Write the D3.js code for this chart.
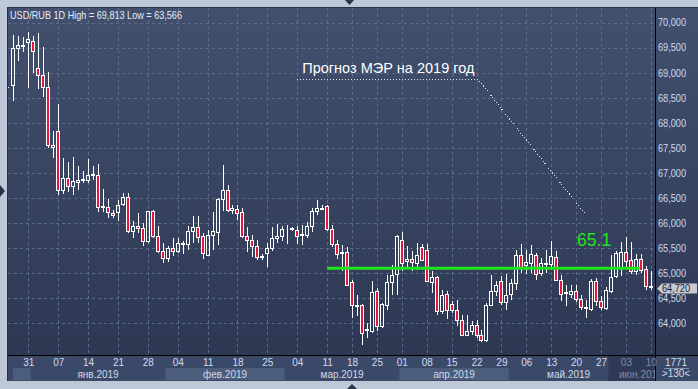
<!DOCTYPE html>
<html>
<head>
<meta charset="utf-8">
<script src="https://cdnjs.cloudflare.com/ajax/libs/d3/7.8.5/d3.min.js"></script>
<style>
  body { margin: 0; background: #bfc8d6; }
  svg { display: block; font-family: "Liberation Sans", Arial, sans-serif; }
</style>
</head>
<body>
<div id="chart"></div>
<script>
// daily USD/RUB candles, 31.12.2018 .. 10.06.2019
var opens = [68.71, 68.75, 69.50, 69.53, 69.62, 69.64, 69.10, 68.95, 68.71, 67.56,
  67.83, 66.66, 66.91, 66.75, 66.83, 66.86, 66.86, 66.97, 66.97, 66.34,
  66.33, 66.21, 66.22, 66.39, 66.52, 65.85, 65.95, 65.90, 65.65, 66.25,
  65.75, 65.45, 65.30, 65.50, 65.45, 65.59, 65.59, 65.85, 65.92, 65.74,
  65.37, 65.77, 65.83, 66.49, 66.67, 66.27, 66.29, 66.22, 65.75, 65.67,
  65.55, 65.33, 65.41, 65.51, 65.71, 65.74, 65.90, 65.89, 65.87, 65.76,
  65.77, 65.95, 66.25, 66.29, 66.35, 65.89, 65.59, 65.40, 65.42, 64.82,
  64.35, 64.36, 63.86, 63.85, 64.65, 63.94, 64.37, 64.82, 64.99, 65.66,
  65.24, 65.29, 65.21, 65.53, 65.47, 64.83, 64.92, 64.24, 64.59, 64.39,
  64.27, 64.06, 63.77, 63.84, 63.97, 63.77, 63.67, 64.37, 64.64, 64.84,
  64.43, 64.59, 64.81, 65.37, 65.17, 65.21, 65.37, 65.01, 65.19, 65.19,
  65.32, 64.87, 64.60, 64.59, 64.64, 64.49, 64.33, 64.29, 64.84, 64.44,
  64.31, 64.65, 64.94, 65.11, 65.42, 65.27, 65.05, 65.29, 65.09, 64.74];
var highs = [68.72, 69.75, 69.74, 69.72, 69.813, 69.74, 69.79, 69.52, 69.02, 67.83,
  68.38, 67.29, 67.22, 67.32, 67.14, 67.04, 67.27, 67.14, 67.17, 66.69,
  66.49, 66.26, 66.47, 66.61, 66.60, 66.05, 66.20, 66.00, 66.25, 66.26,
  65.95, 65.60, 65.55, 65.70, 65.70, 65.64, 65.94, 66.14, 66.14, 65.81,
  65.87, 66.22, 66.51, 67.16, 66.76, 66.36, 66.37, 66.31, 65.92, 65.77,
  65.67, 65.39, 65.61, 65.92, 65.99, 65.95, 65.97, 65.92, 65.95, 65.97,
  66.02, 66.31, 66.47, 66.36, 66.36, 65.96, 65.67, 65.57, 65.52, 64.87,
  64.56, 64.39, 64.00, 64.84, 64.71, 64.40, 64.96, 65.16, 65.76, 65.83,
  65.54, 65.44, 65.61, 65.58, 65.59, 65.04, 64.94, 64.67, 64.64, 64.45,
  64.47, 64.16, 64.16, 64.04, 64.07, 63.87, 64.41, 64.97, 64.84, 64.94,
  64.99, 64.89, 65.47, 65.59, 65.47, 65.57, 65.41, 65.31, 65.47, 65.65,
  65.44, 64.96, 64.77, 64.77, 64.77, 64.57, 64.47, 64.89, 64.90, 64.54,
  64.72, 65.37, 65.44, 65.62, 65.72, 65.62, 65.39, 65.39, 65.14, 65.04];
var lows = [68.70, 68.43, 69.23, 69.41, 68.70, 69.00, 68.67, 68.51, 67.49, 67.29,
  66.57, 66.59, 66.63, 66.57, 66.66, 66.81, 66.81, 66.87, 66.23, 66.23,
  66.11, 66.11, 66.05, 66.34, 65.80, 65.70, 65.80, 65.55, 65.60, 65.70,
  65.40, 65.20, 65.22, 65.35, 65.40, 65.39, 65.47, 65.61, 65.61, 65.29,
  65.35, 65.47, 65.57, 66.24, 66.23, 66.18, 66.06, 65.71, 65.42, 65.32,
  65.27, 65.27, 65.12, 65.44, 65.61, 65.64, 65.59, 65.84, 65.59, 65.56,
  65.71, 65.83, 66.17, 66.26, 65.85, 65.52, 65.29, 65.04, 64.74, 64.11,
  64.14, 63.566, 63.70, 63.80, 63.84, 63.90, 64.27, 64.57, 64.57, 65.04,
  65.11, 65.04, 65.07, 65.24, 64.83, 64.61, 64.17, 64.19, 64.09, 64.21,
  63.94, 63.74, 63.74, 63.77, 63.71, 63.62, 63.62, 64.35, 64.54, 64.37,
  64.27, 64.47, 64.67, 65.01, 64.99, 65.01, 64.87, 64.94, 65.01, 65.07,
  64.85, 64.45, 64.34, 64.51, 64.43, 64.27, 64.11, 64.24, 64.34, 64.27,
  64.27, 64.61, 64.90, 64.94, 65.12, 64.98, 64.97, 65.01, 64.67, 64.67];
var closes = [68.71, 69.49, 69.55, 69.55, 69.67, 69.43, 68.95, 68.71, 67.55, 67.51,
  66.67, 66.91, 66.75, 66.85, 66.87, 66.88, 66.97, 66.98, 66.33, 66.33,
  66.22, 66.16, 66.37, 66.52, 65.85, 65.95, 65.90, 65.65, 66.25, 65.75,
  65.45, 65.30, 65.50, 65.45, 65.60, 65.61, 65.85, 65.92, 65.72, 65.41,
  65.77, 65.84, 66.49, 66.67, 66.27, 66.31, 66.21, 65.74, 65.66, 65.54,
  65.33, 65.35, 65.51, 65.71, 65.75, 65.89, 65.91, 65.90, 65.75, 65.78,
  65.95, 66.25, 66.31, 66.30, 65.89, 65.59, 65.39, 65.42, 64.77, 64.37,
  64.37, 63.81, 63.88, 64.62, 63.94, 64.38, 64.82, 64.96, 65.74, 65.21,
  65.29, 65.22, 65.37, 65.27, 64.84, 64.92, 64.25, 64.57, 64.26, 64.27,
  64.06, 63.77, 63.84, 63.97, 63.77, 63.66, 64.37, 64.64, 64.77, 64.43,
  64.57, 64.81, 65.37, 65.11, 65.22, 65.39, 64.99, 65.20, 65.21, 65.34,
  64.87, 64.59, 64.62, 64.64, 64.49, 64.33, 64.31, 64.84, 64.44, 64.32,
  64.67, 64.92, 65.41, 65.42, 65.25, 65.05, 65.29, 65.07, 64.74, 64.72];

// axis labels (candle index -> text)
var dayIdx = [4, 10, 16, 22, 28, 34, 40, 46, 52, 58, 64, 69, 74, 79, 84, 89, 94, 99, 104, 109, 114, 119, 124, 129];
var dayLabels = ['31', '07', '14', '21', '28', '04', '11', '18', '25', '04', '11', '18', '25',
  '01', '08', '15', '22', '29', '06', '13', '20', '27', '03', '10'];
var monthLabels = ['янв.2019', 'фев.2019', 'мар.2019', 'апр.2019', 'май.2019', 'июн.2019'];
var monthFrom = [4.5, 31.5, 55.5, 78.5, 100.5, 120.5];
var monthTo = [31.5, 55.5, 78.5, 100.5, 120.5, 131.5];
var monthMid = [18, 43.5, 67, 89.5, 112.5, 127];
var priceTicks = [64, 64.5, 65, 65.5, 66, 66.5, 67, 67.5, 68, 68.5, 69, 69.5, 70];

// forecast annotation
var forecastText = 'Прогноз МЭР на 2019 год';
var forecastLevel = 65.1;
var forecastFrom = 64, forecastTo = 126.8;
var notePath = [[58, 68.87], [94.3, 68.87], [116, 66.16]];

var W = 698, H = 389;
var mLeft = 8, mTop = 8, plotRight = 655, plotBottom = 355, axisBottom = 381;

var n = closes.length;
var x = d3.scaleLinear().domain([0, n - 1]).range([8.4, 650.8]);
var y = d3.scaleLinear().domain([64, 70]).range([323.3, 22.7]);

var ru = d3.formatLocale({ decimal: ',', thousands: ' ', grouping: [3], currency: ['', ''] });
var fmt = ru.format('.3f');

var svg = d3.select('#chart').append('svg')
  .attr('width', W)
  .attr('height', H);

var defs = svg.append('defs');
var grad = defs.append('linearGradient')
  .attr('id', 'bg').attr('x1', 0).attr('y1', 0).attr('x2', 0).attr('y2', 1);
grad.append('stop').attr('offset', '0%').attr('stop-color', '#42506e');
grad.append('stop').attr('offset', '100%').attr('stop-color', '#2d3853');
defs.append('clipPath').attr('id', 'plotclip')
  .append('rect').attr('x', mLeft).attr('y', mTop)
  .attr('width', plotRight - mLeft).attr('height', plotBottom - mTop);
defs.append('clipPath').attr('id', 'axclip')
  .append('rect').attr('x', mLeft).attr('y', plotBottom)
  .attr('width', plotRight - mLeft).attr('height', axisBottom - plotBottom);

// frame
svg.append('rect').attr('width', W).attr('height', H).attr('fill', '#bfc8d6');
svg.append('rect')
  .attr('x', mLeft - 1).attr('y', mTop - 1)
  .attr('width', W - mLeft + 1).attr('height', axisBottom - mTop + 1)
  .attr('fill', '#27324b');
svg.append('rect')
  .attr('x', mLeft).attr('y', mTop)
  .attr('width', W - mLeft).attr('height', plotBottom - mTop)
  .attr('fill', 'url(#bg)');

// bottom axis strip + month bands
svg.append('rect')
  .attr('x', mLeft).attr('y', plotBottom)
  .attr('width', W - mLeft).attr('height', axisBottom - plotBottom)
  .attr('fill', '#3b4968');
svg.append('rect')
  .attr('x', mLeft + 5).attr('y', 368)
  .attr('width', x(monthFrom[0]) - mLeft - 5).attr('height', 12)
  .attr('fill', '#4c5c7b');
svg.selectAll('.band')
  .data(monthLabels)
  .enter().append('rect')
  .attr('class', 'band')
  .attr('x', function(d, i) { return x(monthFrom[i]); })
  .attr('y', function(d, i) { return i == 5 ? plotBottom : 368; })
  .attr('width', function(d, i) { return Math.min(x(monthTo[i]), plotRight) - x(monthFrom[i]); })
  .attr('height', function(d, i) { return i == 5 ? axisBottom - plotBottom : 12; })
  .attr('fill', function(d, i) { return i == 5 ? '#2e3a55' : (i % 2 ? '#4c5c7b' : '#3b4968'); });

// grid
var grid = svg.append('g').attr('clip-path', 'url(#plotclip)');
grid.selectAll('.hg')
  .data(priceTicks)
  .enter().append('line')
  .attr('x1', mLeft).attr('x2', plotRight)
  .attr('y1', function(d) { return Math.round(y(d)) + 0.5; })
  .attr('y2', function(d) { return Math.round(y(d)) + 0.5; })
  .attr('stroke', '#5a6b8c').attr('stroke-dasharray', '3,3');
grid.selectAll('.vg')
  .data(dayIdx)
  .enter().append('line')
  .attr('x1', function(d) { return Math.round(x(d)) + 0.5; })
  .attr('x2', function(d) { return Math.round(x(d)) + 0.5; })
  .attr('y1', mTop).attr('y2', plotBottom)
  .attr('stroke', '#5a6b8c').attr('stroke-dasharray', '3,3');

// candles
var candles = grid.append('g');
d3.range(n).forEach(function(i) {
  var c = Math.round(x(i));
  var o = opens[i], cl = closes[i];
  var yt = Math.round(y(Math.max(o, cl))), yb = Math.round(y(Math.min(o, cl)));
  var yh = Math.round(y(highs[i])), yl = Math.round(y(lows[i]));
  candles.append('rect')
    .attr('x', c).attr('y', yh).attr('width', 1).attr('height', Math.max(0, yt - yh))
    .attr('fill', '#ffffff');
  candles.append('rect')
    .attr('x', c).attr('y', yb).attr('width', 1).attr('height', Math.max(0, yl - yb))
    .attr('fill', '#ffffff');
  candles.append('rect')
    .attr('x', c - 1.5).attr('y', yt + 0.5)
    .attr('width', 3).attr('height', Math.max(0, yb - yt))
    .attr('fill', cl < o ? '#e5173f' : 'none')
    .attr('stroke', '#ffffff').attr('stroke-width', 1);
});

// forecast level
svg.append('line')
  .attr('x1', x(forecastFrom)).attr('x2', x(forecastTo))
  .attr('y1', y(forecastLevel)).attr('y2', y(forecastLevel))
  .attr('stroke', '#1ee61e').attr('stroke-width', 3);
svg.append('text')
  .attr('x', x(114.2)).attr('y', y(forecastLevel) - 22)
  .attr('fill', '#1ee61e').attr('font-size', '17.5px')
  .text(d3.format('.1f')(forecastLevel));
svg.append('path')
  .attr('d', d3.line().x(function(d) { return x(d[0]); }).y(function(d) { return y(d[1]); })(notePath))
  .attr('fill', 'none').attr('stroke', '#dde2ea').attr('stroke-dasharray', '1,2')
  .attr('shape-rendering', 'crispEdges');
svg.append('text')
  .attr('x', x(notePath[0][0]) + 5).attr('y', y(notePath[0][1]) - 6)
  .attr('fill', '#ffffff').attr('font-size', '14.5px')
  .text(forecastText);

// title
svg.append('text')
  .attr('x', 10).attr('y', 19)
  .attr('fill', '#e6edf8').attr('font-size', '11.5px')
  .attr('textLength', 172).attr('lengthAdjust', 'spacingAndGlyphs')
  .text('USD/RUB 1D High = ' + fmt(d3.max(highs)) + ' Low = ' + fmt(d3.min(lows)));

// separators
svg.append('line').attr('x1', plotRight + 0.5).attr('x2', plotRight + 0.5)
  .attr('y1', mTop).attr('y2', axisBottom).attr('stroke', '#000');
svg.append('line').attr('x1', mLeft).attr('x2', W)
  .attr('y1', plotBottom + 0.5).attr('y2', plotBottom + 0.5).attr('stroke', '#000');

// price axis
var yAxis = d3.axisRight(y).tickValues(priceTicks).tickFormat(fmt).tickSize(0).tickPadding(3);
svg.append('g')
  .attr('transform', 'translate(' + plotRight + ',0)')
  .call(yAxis)
  .call(function(g) { g.select('.domain').remove(); })
  .selectAll('text')
  .attr('fill', '#cfdaee').attr('font-size', '10px')
  .attr('font-family', '"Liberation Sans", Arial, sans-serif')
  .attr('textLength', 28).attr('lengthAdjust', 'spacingAndGlyphs');

// last price tag
var last = closes[n - 1];
var ly = Math.round(y(last)) + 1.5;
svg.append('path')
  .attr('d', 'M' + 657 + ',' + ly + 'L' + 662 + ',' + (ly - 5) + 'H697V' + (ly + 5) + 'H662Z')
  .attr('fill', '#c6cad2');
svg.append('text')
  .attr('x', 662).attr('y', ly + 3.5)
  .attr('fill', '#1c2438').attr('font-size', '10px')
  .attr('textLength', 28).attr('lengthAdjust', 'spacingAndGlyphs')
  .text(fmt(last));

// date axis
var dayAxis = svg.append('g');
dayAxis.selectAll('text')
  .data(dayLabels)
  .enter().append('text')
  .attr('x', function(d, i) { return x(dayIdx[i]) + 0.5; })
  .attr('y', 366)
  .attr('text-anchor', 'middle')
  .attr('font-size', '10px')
  .attr('fill', function(d, i) { return dayIdx[i] > monthFrom[5] ? '#7f8ba3' : '#cfdaee'; })
  .text(function(d) { return d; });
var monthAxis = svg.append('g').attr('clip-path', 'url(#axclip)');
monthAxis.selectAll('text')
  .data(monthLabels)
  .enter().append('text')
  .attr('x', function(d, i) { return x(monthMid[i]); })
  .attr('y', 377.5)
  .attr('text-anchor', 'middle')
  .attr('font-size', '10px')
  .attr('fill', function(d, i) { return i == 5 ? '#7f8ba3' : '#cfdaee'; })
  .text(function(d) { return d; });

// corner box
svg.append('text').attr('x', 676).attr('y', 365.5).attr('text-anchor', 'middle')
  .attr('font-size', '10px').attr('fill', '#cfdaee').text('1771');
svg.append('line').attr('x1', 664).attr('x2', 689).attr('y1', 368.5).attr('y2', 368.5)
  .attr('stroke', '#8593ad');
svg.append('text').attr('x', 676).attr('y', 377).attr('text-anchor', 'middle')
  .attr('font-size', '10px').attr('fill', '#cfdaee').text('>130<');

// frame arrows
svg.append('path').attr('d', 'M345,0H354L349.5,5Z').attr('fill', '#27324b');
svg.append('path').attr('d', 'M0,185V197L5,191Z').attr('fill', '#27324b');
svg.append('path').attr('d', 'M347,389H357L352,384Z').attr('fill', '#27324b');
</script>
</body>
</html>
